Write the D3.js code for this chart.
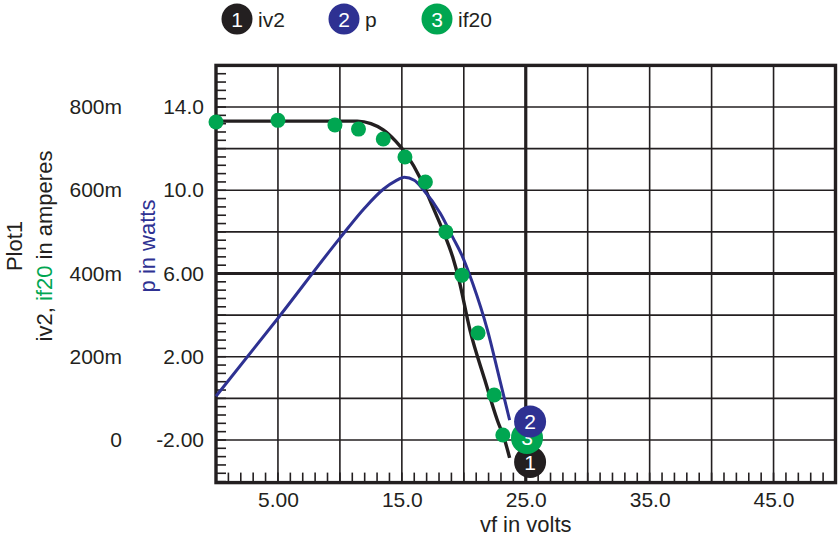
<!DOCTYPE html>
<html>
<head>
<meta charset="utf-8">
<script src="https://cdn.jsdelivr.net/npm/d3@7"></script>
<style>
  body { margin: 0; background: #fff; }
  text { font-family: "Liberation Sans", Arial, sans-serif; fill: #231f20; }
</style>
</head>
<body>
<svg id="chart" width="838" height="538"></svg>
<script>
// ---- Data ----
// iv2: current vs vf (amperes)
const iv2Vf = [0, 11.4, 12.5, 13.5, 14.5, 15.4, 16.5, 17.5, 18.3, 19.1, 19.6, 20.5, 21.7, 22.7, 23.3, 23.7];
const iv2Amp = [0.766, 0.766, 0.760, 0.745, 0.718, 0.685, 0.628, 0.560, 0.504, 0.440, 0.386, 0.264, 0.144, 0.048, 0.000, -0.043];

// p: power vs vf (watts)
const pVf = [0, 5, 10, 12, 13.5, 14.5, 15.2, 16.0, 16.7, 18.1, 19.1, 19.9, 20.7, 21.9, 22.9, 23.7];
const pWatt = [0.1, 3.85, 7.7, 9.15, 10.05, 10.45, 10.62, 10.48, 10.05, 8.9, 7.75, 6.8, 5.55, 3.3, 0.9, -1.05];

// if20: sampled current (amperes), drawn as dots
const if20Vf = [0, 5.0, 9.6, 11.5, 13.5, 15.25, 16.9, 18.55, 19.85, 21.15, 22.45, 23.15];
const if20Amp = [0.764, 0.768, 0.757, 0.747, 0.723, 0.680, 0.620, 0.500, 0.396, 0.257, 0.108, 0.012];

// axis ticks and labels
const ampTicks = [0, 0.2, 0.4, 0.6, 0.8];
const ampLabels = ["0", "200m", "400m", "600m", "800m"];
const wattTicks = [-2, 2, 6, 10, 14];
const wattLabels = ["-2.00", "2.00", "6.00", "10.0", "14.0"];
const vfTicks = [5, 15, 25, 35, 45];
const vfLabels = ["5.00", "15.0", "25.0", "35.0", "45.0"];

// series meta + end-of-trace markers
const seriesNames = ["iv2", "p", "if20"];
const seriesColors = ["#231f20", "#2e3192", "#00a651"];
const endVf = [25.35, 25.35, 25.1];
const endVal = [-0.053, -1.11, 0.005];   // iv2 in A, p in W, if20 in A

// ---- Layout ----
const svg = d3.select("#chart");
const L = 216, R = 835.5;

const x = d3.scaleLinear().domain([0, 50]).range([L, R]);
const yA = d3.scaleLinear().domain([-0.1, 0.9]).range([481.6, 65.4]);
const yW = d3.scaleLinear().domain([-4, 16]).range([481.6, 65.4]);
const T = yA(0.9), B = yA(-0.1);

const ink = "#231f20";

// ---- Grid ----
const grid = svg.append("g");
grid.selectAll("line.v")
  .data(d3.range(5, 50, 5))
  .join("line")
  .attr("x1", d => x(d)).attr("x2", d => x(d))
  .attr("y1", T).attr("y2", B)
  .attr("stroke", ink)
  .attr("stroke-width", d => d === 25 ? 3.2 : 1.6);

grid.selectAll("line.h")
  .data(d3.range(0, 9).map(i => i / 10))
  .join("line")
  .attr("x1", L).attr("x2", R)
  .attr("y1", d => yA(d)).attr("y2", d => yA(d))
  .attr("stroke", ink)
  .attr("stroke-width", d => Math.abs(d - 0.4) < 1e-9 ? 3.2 : 1.6);

// minor ticks: left edge every 20m, bottom edge every 1 V
grid.selectAll("line.ml")
  .data(d3.range(-5, 45).map(i => i * 0.02))
  .join("line")
  .attr("x1", L).attr("x2", L + 10)
  .attr("y1", d => yA(d)).attr("y2", d => yA(d))
  .attr("stroke", ink).attr("stroke-width", 1.6);

grid.selectAll("line.mb")
  .data(d3.range(1, 50))
  .join("line")
  .attr("x1", d => x(d)).attr("x2", d => x(d))
  .attr("y1", B).attr("y2", B - 9)
  .attr("stroke", ink).attr("stroke-width", 1.6);

// frame
svg.append("rect")
  .attr("x", L).attr("y", T)
  .attr("width", R - L).attr("height", B - T + 1)
  .attr("fill", "none").attr("stroke", ink).attr("stroke-width", 3.4);

// ---- Tick labels ----
const ampAxis = svg.append("g").attr("transform", "translate(122,0)")
  .call(d3.axisLeft(yA).tickValues(ampTicks).tickSize(0).tickPadding(0)
    .tickFormat((d, i) => ampLabels[i]));
const wattAxis = svg.append("g").attr("transform", "translate(204,0)")
  .call(d3.axisLeft(yW).tickValues(wattTicks).tickSize(0).tickPadding(0)
    .tickFormat((d, i) => wattLabels[i]));
const vfAxis = svg.append("g").attr("transform", `translate(0,${B + 1})`)
  .call(d3.axisBottom(x).tickValues(vfTicks).tickSize(0).tickPadding(9)
    .tickFormat((d, i) => vfLabels[i]));

[ampAxis, wattAxis, vfAxis].forEach(g => {
  g.select(".domain").remove();
  g.selectAll("text").attr("font-size", 21).attr("fill", ink)
    .attr("font-family", "Liberation Sans, Arial, sans-serif");
});

// ---- Axis titles ----
svg.append("text")
  .attr("transform", "translate(22,246) rotate(-90)")
  .attr("text-anchor", "middle").attr("font-size", 22)
  .text("Plot1");

const ampTitle = svg.append("text")
  .attr("transform", "translate(52,246) rotate(-90)")
  .attr("text-anchor", "middle").attr("font-size", 22);
ampTitle.append("tspan").text("iv2, ");
ampTitle.append("tspan").style("fill", seriesColors[2]).text("if20");
ampTitle.append("tspan").text(" in amperes");

svg.append("text")
  .attr("transform", "translate(155,246) rotate(-90)")
  .attr("text-anchor", "middle").attr("font-size", 22)
  .style("fill", seriesColors[1])
  .text("p in watts");

svg.append("text")
  .attr("x", x(25)).attr("y", 532)
  .attr("text-anchor", "middle").attr("font-size", 22)
  .text("vf in volts");

// ---- Traces ----
const plot = svg.append("g");

const iv2Line = d3.line()
  .x((d, i) => x(iv2Vf[i])).y(d => yA(d))
  .curve(d3.curveMonotoneX);
plot.append("path")
  .attr("d", iv2Line(iv2Amp))
  .attr("fill", "none").attr("stroke", seriesColors[0]).attr("stroke-width", 3.4);

const pLine = d3.line()
  .x((d, i) => x(pVf[i])).y(d => yW(d))
  .curve(d3.curveMonotoneX);
plot.append("path")
  .attr("d", pLine(pWatt))
  .attr("fill", "none").attr("stroke", seriesColors[1]).attr("stroke-width", 3);

plot.selectAll("circle.if20")
  .data(if20Amp)
  .join("circle")
  .attr("class", "if20")
  .attr("cx", (d, i) => x(if20Vf[i]))
  .attr("cy", d => yA(d))
  .attr("r", 7.5)
  .attr("fill", seriesColors[2]);

// ---- End-of-trace number badges (drawn 1, 3, 2) ----
const endY = [yA(endVal[0]), yW(endVal[1]), yA(endVal[2])];
[0, 2, 1].forEach(i => {
  const g = svg.append("g").attr("transform", `translate(${x(endVf[i])},${endY[i]})`);
  g.append("circle").attr("r", 16).attr("fill", seriesColors[i]);
  g.append("text").attr("text-anchor", "middle").attr("dy", "0.36em")
    .attr("font-size", 21).style("fill", "#fff").text(i + 1);
});

// ---- Legend ----
const legendX = [237, 344, 437];
seriesNames.forEach((name, i) => {
  const g = svg.append("g").attr("transform", `translate(${legendX[i]},19)`);
  g.append("circle").attr("r", 15.5).attr("fill", seriesColors[i]);
  g.append("text").attr("text-anchor", "middle").attr("dy", "0.36em")
    .attr("font-size", 21).style("fill", "#fff").text(i + 1);
  g.append("text").attr("x", 21).attr("dy", "0.36em")
    .attr("font-size", 21).text(name);
});
</script>
</body>
</html>
